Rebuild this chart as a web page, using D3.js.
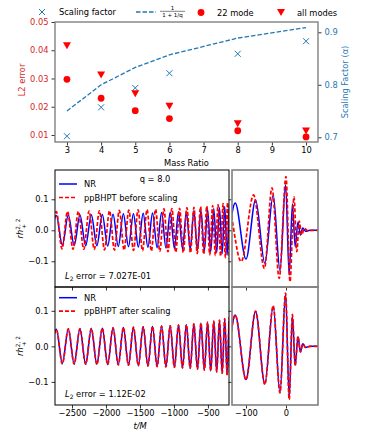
<!DOCTYPE html>
<html><head><meta charset="utf-8">
<script src="https://cdn.jsdelivr.net/npm/d3@7"></script>
<style>body{margin:0;background:#fff} svg{display:block}</style>
</head><body><svg id="c" width="374" height="436"></svg>
<script>
// ---------------- data ----------------
const massRatio = [3, 4, 5, 6, 8, 10];
const scalingFactor = [0.702, 0.757, 0.794, 0.822, 0.859, 0.883];
const alphaCurve = [0.75, 0.8, 0.833, 0.857, 0.889, 0.909]; // 1/(1+1/q)
const err22 = [0.0297, 0.0230, 0.0186, 0.0158, 0.0115, 0.0093];
const errAll = [0.0416, 0.0312, 0.0246, 0.0202, 0.0140, 0.0114];
const massTicks = [3, 4, 5, 6, 7, 8, 9, 10];
const errTicks = [0.01, 0.02, 0.03, 0.04, 0.05];
const alphaTicks = [0.7, 0.8, 0.9];

// waveform extrema (t/M, rh)
const nrT = [-2818,-2730,-2642,-2554,-2468,-2383,-2299,-2216,-2134,-2054,-1975,-1896,-1819,-1744,-1669,-1596,-1524,-1453,-1383,-1315,-1248,-1182,-1118,-1055,-993,-933,-874,-817,-761,-707,-654,-603,-553,-505,-459,-414,-371,-330,-290,-253,-217,-184,-155,-127,-100,-76,-53,-32,-15,-1,8,16,23,30,36,42,49,60,80];
const nrV = [-0.047,0.048,-0.048,0.049,-0.049,0.049,-0.050,0.050,-0.050,0.051,-0.051,0.052,-0.052,0.053,-0.053,0.053,-0.054,0.055,-0.055,0.056,-0.056,0.057,-0.057,0.058,-0.059,0.060,-0.060,0.061,-0.062,0.063,-0.064,0.065,-0.066,0.067,-0.069,0.070,-0.072,0.073,-0.075,0.077,-0.080,0.082,-0.085,0.088,-0.093,0.098,-0.106,0.113,-0.130,0.147,-0.145,0.085,-0.053,0.027,-0.015,0.007,-0.003,0,0];

const ppBeforeT = [-2815,-2730,-2647,-2566,-2485,-2406,-2327,-2249,-2172,-2097,-2022,-1948,-1876,-1804,-1733,-1664,-1595,-1528,-1462,-1396,-1332,-1270,-1208,-1147,-1088,-1030,-973,-917,-862,-809,-757,-706,-657,-609,-562,-517,-473,-431,-390,-351,-313,-277,-243,-210,-180,-148,-112,-81,-54,-35,-17,0,10,20,27,33,39,46,55,65,80];
const ppBeforeV = [-0.059,0.060,-0.060,0.061,-0.061,0.061,-0.061,0.062,-0.062,0.063,-0.063,0.063,-0.064,0.064,-0.064,0.065,-0.065,0.066,-0.066,0.067,-0.067,0.068,-0.068,0.069,-0.069,0.070,-0.071,0.071,-0.072,0.073,-0.073,0.074,-0.075,0.076,-0.077,0.078,-0.079,0.080,-0.081,0.083,-0.084,0.086,-0.088,0.090,-0.092,0.095,-0.101,0.114,-0.123,0.137,-0.155,0.173,-0.166,0.108,-0.069,0.030,-0.015,0.006,-0.002,0,0];

const ppAfterT = [-2818,-2730,-2642,-2554,-2468,-2383,-2299,-2216,-2134,-2054,-1975,-1896,-1819,-1744,-1669,-1596,-1524,-1453,-1383,-1315,-1248,-1182,-1118,-1055,-993,-933,-874,-817,-761,-707,-654,-603,-553,-505,-459,-414,-371,-330,-290,-253,-217,-184,-155,-127,-100,-76,-53,-32,-15,-1,8,16,23,30,36,42,49,60,80];
const ppAfterV = [-0.047,0.048,-0.049,0.049,-0.050,0.050,-0.050,0.050,-0.051,0.051,-0.051,0.052,-0.052,0.053,-0.053,0.054,-0.054,0.055,-0.055,0.056,-0.057,0.057,-0.058,0.058,-0.059,0.060,-0.061,0.061,-0.062,0.063,-0.064,0.065,-0.067,0.068,-0.069,0.071,-0.072,0.074,-0.076,0.078,-0.081,0.083,-0.086,0.088,-0.094,0.099,-0.107,0.114,-0.131,0.150,-0.150,0.090,-0.055,0.028,-0.016,0.007,-0.003,0,0];

const tTicksLeft = [-2500, -2000, -1500, -1000, -500];
const tTicksRight = [-100, 0];
const hTicks = [-0.1, 0.0, 0.1];

// ---------------- drawing ----------------
const FONT = "DejaVu Sans";
const FS = 8.3;
const RED = "#ff0000", BLUE = "#0000ff", TRED = "#d62728", TBLUE = "#1f77b4";
const svg = d3.select("#c");
const defs = svg.append("defs");

function styleAxis(g, textColor) {
  g.attr("font-family", FONT).attr("font-size", FS);
  g.select(".domain").remove();
  g.selectAll(".tick line").attr("stroke", "#000").attr("stroke-width", 0.8);
  g.selectAll(".tick text").attr("fill", textColor || "#000");
}
function frame(x0, y0, x1, y1, color, w) {
  svg.append("rect").attr("x", x0).attr("y", y0).attr("width", x1 - x0).attr("height", y1 - y0)
    .attr("fill", "none").attr("stroke", color).attr("stroke-width", w);
}
function clip(id, x0, y0, x1, y1) {
  defs.append("clipPath").attr("id", id).append("rect")
    .attr("x", x0).attr("y", y0).attr("width", x1 - x0).attr("height", y1 - y0);
  return "url(#" + id + ")";
}

// ===== Top chart =====
const xTop = d3.scaleLinear([2.65, 10.35], [55, 318]);
const yErr = d3.scaleLinear([0.00752, 0.05], [142, 22]);
const yAlpha = d3.scaleLinear([0.691, 0.9196], [142, 22]);

svg.append("g").attr("transform", "translate(0,142)")
  .call(d3.axisBottom(xTop).tickValues(massTicks).tickFormat(d3.format("d")).tickSize(3.5).tickPadding(2))
  .call(g => styleAxis(g));
svg.append("g").attr("transform", "translate(55,0)")
  .call(d3.axisLeft(yErr).tickValues(errTicks).tickFormat(d3.format(".2f")).tickSize(3.5).tickPadding(3))
  .call(g => styleAxis(g, TRED));
svg.append("g").attr("transform", "translate(318,0)")
  .call(d3.axisRight(yAlpha).tickValues(alphaTicks).tickFormat(d3.format(".1f")).tickSize(3.5).tickPadding(3))
  .call(g => styleAxis(g, TBLUE));

const topG = svg.append("g");
topG.append("path").datum(massRatio.map((q, i) => [q, alphaCurve[i]]))
  .attr("d", d3.line().x(d => xTop(d[0])).y(d => yAlpha(d[1])))
  .attr("fill", "none").attr("stroke", TBLUE).attr("stroke-width", 1.3).attr("stroke-dasharray", "4.5,2");
const cross = "M-3,-3L3,3M-3,3L3,-3";
topG.selectAll(".sf").data(massRatio).join("path")
  .attr("transform", (q, i) => `translate(${xTop(q)},${yAlpha(scalingFactor[i])})`)
  .attr("d", cross).attr("stroke", TBLUE).attr("stroke-width", 1).attr("fill", "none");
topG.selectAll(".c22").data(massRatio).join("circle")
  .attr("cx", q => xTop(q)).attr("cy", (q, i) => yErr(err22[i])).attr("r", 3.4).attr("fill", RED);
const tri = "M-4,-3.5L4,-3.5L0,3.5Z";
topG.selectAll(".call").data(massRatio).join("path")
  .attr("transform", (q, i) => `translate(${xTop(q)},${yErr(errAll[i])})`)
  .attr("d", tri).attr("fill", RED);

frame(55, 22, 318, 142, "#808080", 1.4);

svg.append("text").attr("x", 186.5).attr("y", 165.5).attr("text-anchor", "middle")
  .attr("font-family", FONT).attr("font-size", FS).text("Mass Ratio");
svg.append("text").attr("transform", "translate(25,80) rotate(-90)").attr("text-anchor", "middle")
  .attr("font-family", FONT).attr("font-size", FS).attr("fill", TRED).text("L2 error");
svg.append("text").attr("transform", "translate(348,82) rotate(-90)").attr("text-anchor", "middle")
  .attr("font-family", FONT).attr("font-size", FS).attr("fill", TBLUE).text("Scaling Factor (\u03b1)");

// top legend
const lg = svg.append("g").attr("font-family", FONT).attr("font-size", FS);
lg.append("path").attr("transform", "translate(42,12)").attr("d", cross).attr("stroke", TBLUE).attr("fill", "none");
lg.append("text").attr("x", 59).attr("y", 15).text("Scaling factor");
lg.append("line").attr("x1", 136).attr("x2", 156).attr("y1", 12).attr("y2", 12)
  .attr("stroke", TBLUE).attr("stroke-width", 1.3).attr("stroke-dasharray", "4.5,2");
lg.append("text").attr("x", 172.5).attr("y", 9.5).attr("text-anchor", "middle").attr("font-size", 5.5).text("1");
lg.append("line").attr("x1", 160).attr("x2", 185).attr("y1", 11.3).attr("y2", 11.3).attr("stroke", "#000").attr("stroke-width", 0.5);
lg.append("text").attr("x", 172.5).attr("y", 17).attr("text-anchor", "middle").attr("font-size", 5.5).text("1 + 1/q");
lg.append("circle").attr("cx", 201).attr("cy", 12.5).attr("r", 3.4).attr("fill", RED);
lg.append("text").attr("x", 217).attr("y", 15.5).text("22 mode");
lg.append("path").attr("transform", "translate(281,12.5)").attr("d", tri).attr("fill", RED);
lg.append("text").attr("x", 297).attr("y", 15.5).text("all modes");

// ===== Waveform panels =====
const xL = d3.scaleLinear([-2750, -190], [55, 229]);
const xR = d3.scaleLinear([-135, 80], [232, 318]);
const yU = d3.scaleLinear([-0.183, 0.1945], [287, 170]);
const yD = d3.scaleLinear([-0.165, 0.167], [405, 287]);

function wave(g, xs, ys, T, V, color, dashed, w) {
  g.append("path").datum(T.map((t, i) => [t, V[i]]))
    .attr("d", d3.line().x(d => xs(d[0])).y(d => ys(d[1])).curve(d3.curveMonotoneX))
    .attr("fill", "none").attr("stroke", color).attr("stroke-width", w)
    .attr("stroke-dasharray", dashed ? "4,2" : null);
}

function panelPair(y0, y1, ys, ppT, ppV, labelPP, l2text, showXLabels, cid) {
  const cl = clip(cid + "l", 55, y0, 229, y1);
  const cr = clip(cid + "r", 232, y0, 318, y1);
  const gl = svg.append("g").attr("clip-path", cl);
  wave(gl, xL, ys, nrT, nrV, BLUE, false, 1.5);
  wave(gl, xL, ys, ppT, ppV, RED, true, 1.7);
  const gr = svg.append("g").attr("clip-path", cr);
  wave(gr, xR, ys, nrT, nrV, BLUE, false, 1.5);
  wave(gr, xR, ys, ppT, ppV, RED, true, 1.7);

  svg.append("g").attr("transform", "translate(55,0)")
    .call(d3.axisLeft(ys).tickValues(hTicks).tickFormat(d3.format(".1f")).tickSize(3.5).tickPadding(3))
    .call(g => styleAxis(g));
  svg.append("g").attr("transform", "translate(232,0)")
    .call(d3.axisLeft(ys).tickValues(hTicks).tickFormat("").tickSize(3.5))
    .call(g => styleAxis(g));
  svg.append("g").attr("transform", `translate(0,${y1})`)
    .call(d3.axisBottom(xL).tickValues(tTicksLeft).tickFormat(showXLabels ? d3.format("d") : "").tickSize(3.5).tickPadding(2))
    .call(g => styleAxis(g));
  svg.append("g").attr("transform", `translate(0,${y1})`)
    .call(d3.axisBottom(xR).tickValues(tTicksRight).tickFormat(showXLabels ? d3.format("d") : "").tickSize(3.5).tickPadding(2))
    .call(g => styleAxis(g));

  frame(55, y0, 229, y1, "#000", 1);
  frame(232, y0, 318, y1, "#808080", 1.6);

  const ly = y0 + (ys === yU ? 14 : 10.7);
  const g = svg.append("g").attr("font-family", FONT).attr("font-size", FS);
  g.append("line").attr("x1", 59).attr("x2", 77).attr("y1", ly).attr("y2", ly).attr("stroke", BLUE).attr("stroke-width", 1.5);
  g.append("text").attr("x", 84).attr("y", ly + 3).text("NR");
  g.append("line").attr("x1", 59).attr("x2", 77).attr("y1", ly + 13.5).attr("y2", ly + 13.5)
    .attr("stroke", RED).attr("stroke-width", 1.7).attr("stroke-dasharray", "4,2");
  g.append("text").attr("x", 84).attr("y", ly + 16.5).text(labelPP);
  const lt = g.append("text").attr("x", 65).attr("y", y1 - 8.5);
  lt.append("tspan").attr("font-style", "italic").text("L");
  lt.append("tspan").attr("font-size", 6).attr("dy", 2).text("2");
  lt.append("tspan").attr("dy", -2).text(" error = " + l2text);
  const yl = svg.append("text").attr("transform", `translate(23,${(y0 + y1) / 2}) rotate(-90)`)
    .attr("text-anchor", "middle").attr("font-family", FONT).attr("font-size", FS);
  yl.append("tspan").attr("font-style", "italic").text("rh");
  yl.append("tspan").attr("font-size", 5.8).attr("dy", -3.5).text("2, 2");
  yl.append("tspan").attr("font-size", 5.8).attr("dx", -10).attr("dy", 6.5).text("+");
  yl.append("tspan").attr("font-size", 5.8).attr("dx", 4).attr("dy", -3).text("\u2009");
}

panelPair(170, 287, yU, ppBeforeT, ppBeforeV, "ppBHPT before scaling", "7.027E-01", false, "cu");
panelPair(287, 405, yD, ppAfterT, ppAfterV, "ppBHPT after scaling", "1.12E-02", true, "cd");

svg.append("text").attr("x", 140).attr("y", 429).attr("text-anchor", "middle")
  .attr("font-family", FONT).attr("font-size", FS).attr("font-style", "italic").text("t/M");

svg.append("text").attr("x", 155).attr("y", 181.5).attr("text-anchor", "middle")
  .attr("font-family", FONT).attr("font-size", FS).text("q = 8.0");
</script></body></html>
